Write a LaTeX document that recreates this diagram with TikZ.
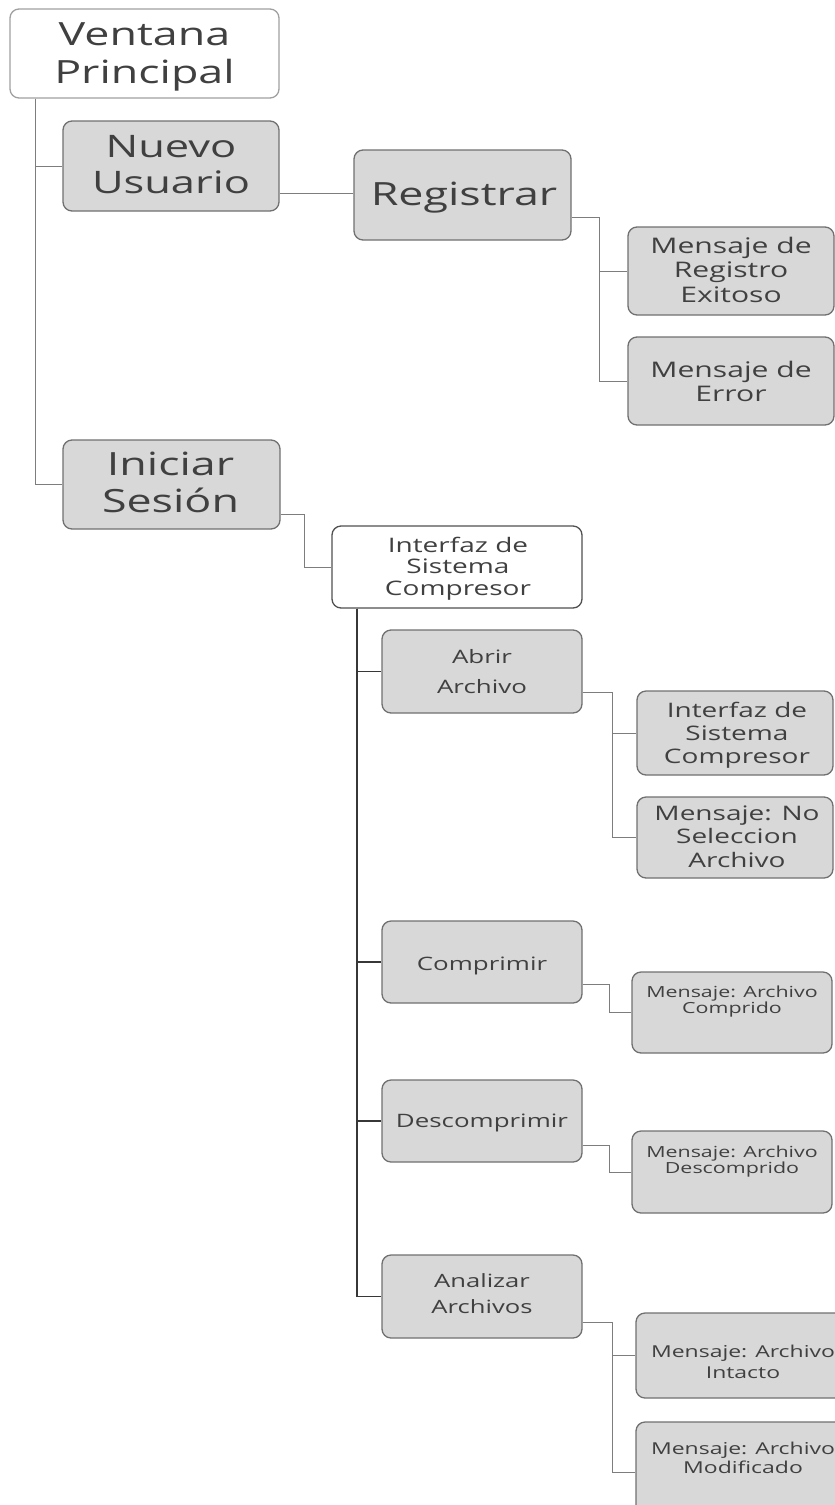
\documentclass[tikz,border=0pt]{standalone}
\usepackage{fontspec}
\setmainfont[FakeStretch=1.4]{Open Sans}
\usetikzlibrary{calc}
\definecolor{boxfill}{RGB}{216,216,216}
\definecolor{boxline}{RGB}{112,112,112}
\definecolor{softline}{RGB}{160,160,160}
\definecolor{darkline}{RGB}{80,80,80}
\definecolor{wireline}{RGB}{125,125,125}
\definecolor{trunkline}{RGB}{55,55,55}
\definecolor{txtgray}{RGB}{64,64,64}
\newcommand{\fsz}[2]{\fontsize{#1}{#2}\selectfont}

\begin{document}
\begin{tikzpicture}[x=1pt,y=-1pt,
  gbox/.style={draw=boxline, fill=boxfill, line width=1.3pt, rounded corners=9pt, inner sep=0pt},
  wbox/.style={fill=white, line width=1.3pt, rounded corners=9pt, inner sep=0pt},
  lbl/.style={anchor=base, align=center, text=txtgray, inner sep=0pt},
  wire/.style={draw=wireline, line width=1pt},
  trunk/.style={draw=trunkline, line width=1.8pt}]

\useasboundingbox (0,0) rectangle (835,1505);
\clip (0,0) rectangle (835,1505);

% boxes
\node[wbox, draw=softline, minimum width=269pt, minimum height=89pt] (vp) at (144.5,53.5) {};
\node[gbox, minimum width=216pt, minimum height=90pt] (nu) at (171,166) {};
\node[gbox, minimum width=217pt, minimum height=90pt] (reg) at (462.5,195) {};
\node[gbox, minimum width=206pt, minimum height=88pt] (ex) at (731,271) {};
\node[gbox, minimum width=206pt, minimum height=88pt] (er) at (731,381) {};
\node[gbox, minimum width=217pt, minimum height=89pt] (is) at (171.5,484.5) {};
\node[wbox, draw=darkline, minimum width=250pt, minimum height=82pt] (iw) at (457,567) {};
\node[gbox, minimum width=200pt, minimum height=83pt] (ab) at (482,671.5) {};
\node[gbox, minimum width=196pt, minimum height=84pt] (ig) at (735,733) {};
\node[gbox, minimum width=196pt, minimum height=81pt] (ns) at (735,837.5) {};
\node[gbox, minimum width=200pt, minimum height=82pt] (co) at (482,962) {};
\node[gbox, minimum width=200pt, minimum height=81pt] (cd) at (732,1012.5) {};
\node[gbox, minimum width=200pt, minimum height=82pt] (de) at (482,1121) {};
\node[gbox, minimum width=200pt, minimum height=82pt] (dd) at (732,1172) {};
\node[gbox, minimum width=200pt, minimum height=83pt] (an) at (482,1296.5) {};
\node[gbox, minimum width=214pt, minimum height=85pt] (it) at (743,1355.5) {};
\node[gbox, minimum width=214pt, minimum height=100pt] (mo) at (743,1472) {};

% labels, each placed by the baseline of its last line
\node[lbl, font=\fsz{32}{38}] (vpt) at (144.5,83) {Ventana\\Principal};
\node[lbl, font=\fsz{31}{36}] (nut) at (171,193) {Nuevo\\Usuario};
\node[lbl, font=\fsz{32}{38}] (regt) at (464,205) {Registrar};
\node[lbl, font=\fsz{21.5}{24.5}] (ext) at (731,302) {Mensaje de\\Registro\\Exitoso};
\node[lbl, font=\fsz{21.5}{24.5}] (ert) at (731,401.5) {Mensaje de\\Error};
\node[lbl, font=\fsz{32}{37}] (ist) at (170.5,512) {Iniciar\\Sesión};
\node[lbl, font=\fsz{20}{21.5}] (iwt) at (458,595) {Interfaz de\\Sistema\\Compresor};
\node[lbl, font=\fsz{18.5}{30}] (abt) at (482,693) {Abrir\\Archivo};
\node[lbl, font=\fsz{20}{23}] (igt) at (737,763) {Interfaz de\\Sistema\\Compresor};
\node[lbl, font=\fsz{20}{23.5}] (nst) at (737,867) {Mensaje: No\\Seleccion\\Archivo};
\node[lbl, font=\fsz{18.5}{22}] (cot) at (482,970) {Comprimir};
\node[lbl, font=\fsz{15.3}{16.5}] (cdt) at (732,1013.5) {Mensaje: Archivo\\Comprido};
\node[lbl, font=\fsz{18.5}{22}] (det) at (482,1127) {Descomprimir};
\node[lbl, font=\fsz{15.3}{16.5}] (ddt) at (732,1173.5) {Mensaje: Archivo\\Descomprido};
\node[lbl, font=\fsz{18.3}{26}] (ant) at (482,1313) {Analizar\\Archivos};
\node[lbl, font=\fsz{16.4}{21}] (itt) at (743,1378) {Mensaje: Archivo\\Intacto};
\node[lbl, font=\fsz{16.4}{19.5}] (mot) at (743,1473.5) {Mensaje: Archivo\\Modificado};

% connectors
\draw[wire] ($(vp.south west)+(26,0)$) |- (nu.west);
\draw[wire] ($(vp.south west)+(26,0)$) |- (is.west);
\draw[wire] ($(nu.south east)+(0,-18)$) -- ($(reg.south west)+(0,-47)$);
\draw[wire] ($(reg.south east)+(0,-23)$) -| ($(ex.west)+(-28,0)$) -- (ex.west);
\draw[wire] ($(reg.south east)+(0,-23)$) -| ($(er.west)+(-28,0)$) -- (er.west);
\draw[wire] ($(is.south east)+(0,-15)$) -| ($(iw.west)+(-27,0)$) -- (iw.west);

\draw[trunk] ($(iw.south west)+(26,0)$) |- (ab.west);
\draw[trunk] ($(iw.south west)+(26,0)$) |- (co.west);
\draw[trunk] ($(iw.south west)+(26,0)$) |- (de.west);
\draw[trunk] ($(iw.south west)+(26,0)$) |- (an.west);

\draw[wire] ($(ab.south east)+(0,-21)$) -| ($(ig.west)+(-24,0)$) -- (ig.west);
\draw[wire] ($(ab.south east)+(0,-21)$) -| ($(ns.west)+(-24,0)$) -- (ns.west);
\draw[wire] ($(co.south east)+(0,-19)$) -| ($(cd.west)+(-22,0)$) -- (cd.west);
\draw[wire] ($(de.south east)+(0,-17)$) -| ($(dd.west)+(-22,0)$) -- (dd.west);
\draw[wire] ($(an.south east)+(0,-16)$) -| ($(it.west)+(-23,0)$) -- (it.west);
\draw[wire] ($(an.south east)+(0,-16)$) -| ($(mo.west)+(-23,0)$) -- (mo.west);
\end{tikzpicture}
\end{document}
